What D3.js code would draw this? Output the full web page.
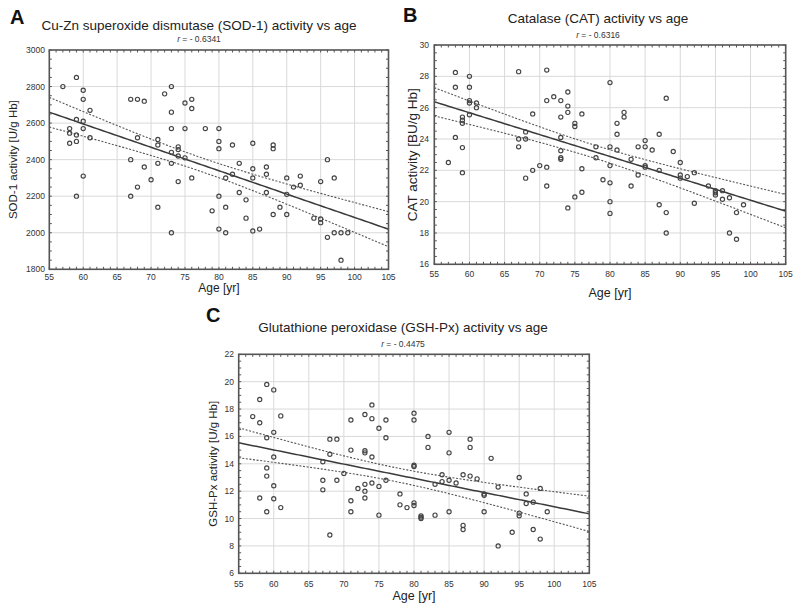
<!DOCTYPE html>
<html><head><meta charset="utf-8">
<script src="https://cdn.jsdelivr.net/npm/d3@7"></script>
<style>
body{margin:0;background:#fff;}
svg{display:block;font-family:"Liberation Sans",Arial,sans-serif;}
</style></head>
<body>
<svg id="chart" width="799" height="612"></svg>
<script>
// ---------------- DATA ----------------
const ageTicks = [55,60,65,70,75,80,85,90,95,100,105];

// Panel A: SOD-1
const sodTicks = [1800,2000,2200,2400,2600,2800,3000];
const sodAge = [57,58,58,58,59,59,59,59,59,60,60,60,60,60,61,61,
  67,67,67,68,68,68,69,69,70,71,71,71,71,72,73,73,73,73,73,73,74,74,74,74,75,75,75,76,76,76,78,79,
  80,80,80,80,80,81,81,81,82,82,83,83,84,84,85,85,85,85,86,87,87,87,88,88,88,89,90,90,90,91,92,92,94,
  95,95,95,96,96,97,97,98,98,99];
const sodVal = [2800,2570,2545,2490,2850,2620,2535,2500,2200,2780,2730,2610,2570,2310,2670,2520,
  2730,2400,2200,2730,2520,2250,2720,2360,2290,2510,2480,2380,2140,2760,2800,2660,2570,2440,2380,2000,2470,2455,2420,2280,2710,2570,2410,2730,2680,2300,2570,2120,
  2570,2500,2460,2200,2020,2300,2140,2000,2480,2320,2380,2220,2180,2080,2490,2350,2300,2010,2020,2360,2320,2220,2480,2460,2100,2140,2300,2210,2100,2250,2310,2260,2080,
  2280,2075,2055,2400,1975,2300,2000,2000,1850,2000];

// Panel B: CAT
const catTicks = [16,18,20,22,24,26,28,30];
const catAge = [57,58,58,58,59,59,59,59,59,60,60,60,60,60,61,61,
  67,67,67,68,68,68,69,69,70,71,71,71,71,72,73,73,73,73,73,73,74,74,74,74,75,75,75,76,76,76,78,78,79,
  80,80,80,80,80,80,81,81,81,82,82,83,83,84,84,85,85,85,85,86,87,87,87,88,88,88,89,90,90,90,91,92,92,94,
  95,95,95,96,96,97,97,98,98,99];
const catVal = [22.5,28.25,27.3,24.1,25.4,25.2,25.0,23.45,21.85,28.0,27.3,26.45,26.3,25.55,26.3,26.0,
  28.3,24.0,23.5,24.45,24.0,21.5,25.6,22.0,22.3,28.4,26.45,22.2,21.0,26.7,26.45,25.4,24.1,23.25,22.8,22.7,27.0,26.1,25.7,19.6,25.0,24.8,20.3,25.6,22.1,20.6,23.5,22.8,21.4,
  27.6,23.5,22.3,21.2,20.0,19.25,25.0,24.3,23.3,25.7,25.4,22.7,21.0,23.5,21.7,23.9,23.5,22.3,22.2,23.3,24.3,22.0,19.8,26.6,19.3,18.0,23.2,22.5,21.7,21.5,21.6,21.85,19.9,21.0,
  20.7,20.57,20.43,20.7,20.15,20.25,18.0,19.3,17.6,19.8];

// Panel C: GSH-Px
const gshTicks = [6,8,10,12,14,16,18,20,22];
const gshAge = [57,58,58,58,59,59,59,59,59,60,60,60,60,60,61,61,
  67,67,67,68,68,68,69,69,70,71,71,71,71,72,73,73,73,73,73,73,74,74,74,74,75,75,75,76,76,76,78,78,79,
  80,80,80,80,80,80,81,81,81,82,82,83,83,84,84,85,85,85,85,86,87,87,87,88,88,88,89,90,90,90,91,92,92,94,
  95,95,95,96,96,97,97,98,98,99];
const gshVal = [17.45,18.7,17.0,11.5,19.8,15.9,13.7,13.1,10.5,19.4,16.3,14.5,12.4,11.45,17.5,10.8,
  14.15,12.8,12.1,15.8,14.7,8.8,15.8,12.8,13.3,17.2,15.0,11.3,10.5,12.2,17.6,14.95,14.8,12.5,12.0,11.5,18.3,17.3,14.5,12.6,16.6,12.35,10.25,17.2,15.9,12.8,11.8,11.0,10.8,
  17.7,17.2,13.9,13.8,11.15,10.95,10.2,10.1,10.0,16.0,15.2,12.5,10.25,13.2,12.7,16.3,14.8,12.8,10.5,12.6,13.2,9.5,9.2,15.8,15.2,13.1,12.9,11.8,11.7,10.5,14.4,12.3,8.0,9.0,
  13.0,10.4,10.2,11.8,11.1,11.2,9.2,12.2,8.5,10.5];

const panelLetters = ["A","B","C"];
const panelTitles = ["Cu-Zn superoxide dismutase (SOD-1) activity vs age",
                     "Catalase (CAT) activity vs age",
                     "Glutathione peroxidase (GSH-Px) activity vs age"];
const rLabels = ["- 0.6341","- 0.6316","- 0.4475"];
const yLabels = ["SOD-1 activity [U/g Hb]","CAT activity [BU/g Hb]","GSH-Px activity [U/g Hb]"];
const xLabel = "Age [yr]";

// ---------------- LAYOUT ----------------
const layouts = [
  {l:49.3, r:388.5, t:50, b:269.3, letterX:10, letterY:24, titleX:199, titleY:30, rY:42, xTickY:279.5, xLabY:292, xLabSize:12, yLabX:17, yTickX:45, yLabSize:11.5},
  {l:434.3, r:785.7, t:45, b:264.3, letterX:403, letterY:22, titleX:598, titleY:23, rY:37.5, xTickY:277, xLabY:297, xLabSize:12.5, yLabX:417, yLabSize:13.5, yTickX:429},
  {l:238.7, r:589.3, t:354.3, b:573.3, letterX:206, letterY:322, titleX:403, titleY:332, rY:346.5, xTickY:586.5, xLabY:600, xLabSize:12.5, yLabX:217, yTickX:234, yLabSize:11.5}
];
const panels = [
  {ages:sodAge, vals:sodVal, ticks:sodTicks},
  {ages:catAge, vals:catVal, ticks:catTicks},
  {ages:gshAge, vals:gshVal, ticks:gshTicks}
];

const svg = d3.select("#chart");

function fit(xs, ys){
  const n = xs.length;
  const mx = d3.mean(xs), my = d3.mean(ys);
  let sxx=0, sxy=0;
  for(let i=0;i<n;i++){ sxx += (xs[i]-mx)**2; sxy += (xs[i]-mx)*(ys[i]-my); }
  const b = sxy/sxx, a = my - b*mx;
  let sse=0;
  for(let i=0;i<n;i++){ sse += (ys[i]-(a+b*xs[i]))**2; }
  const s = Math.sqrt(sse/(n-2));
  const t = 1.985;
  return {a,b,mx,sxx,s,n,t};
}

panels.forEach((p, i) => {
  const L = layouts[i];
  const yDom = d3.extent(p.ticks);
  const x = d3.scaleLinear().domain([55,105]).range([L.l, L.r]);
  const y = d3.scaleLinear().domain(yDom).range([L.b, L.t]);
  const g = svg.append("g");
  const yStep = p.ticks[1]-p.ticks[0];

  // grid
  g.append("g").selectAll("line").data(ageTicks.slice(1,-1)).join("line")
    .attr("x1", d=>x(d)).attr("x2", d=>x(d)).attr("y1", L.t).attr("y2", L.b)
    .attr("stroke", "#d9d9d9").attr("stroke-width", 1);
  g.append("g").selectAll("line").data(p.ticks.slice(1,-1)).join("line")
    .attr("y1", d=>y(d)).attr("y2", d=>y(d)).attr("x1", L.l).attr("x2", L.r)
    .attr("stroke", "#d9d9d9").attr("stroke-width", 1);

  // regression + confidence band
  const f = fit(p.ages, p.vals);
  const xs = d3.range(55, 105.01, 0.5);
  const line = d3.line().x(d=>x(d[0])).y(d=>y(d[1]));
  const hw = xx => f.t*f.s*Math.sqrt(1/f.n + (xx-f.mx)**2/f.sxx);
  g.append("path").attr("d", line(xs.map(v=>[v, f.a+f.b*v])))
    .attr("fill","none").attr("stroke","#3a3a3a").attr("stroke-width",1.5);
  [1,-1].forEach(sg => {
    g.append("path").attr("d", line(xs.map(v=>[v, f.a+f.b*v + sg*hw(v)])))
      .attr("fill","none").attr("stroke","#555").attr("stroke-width",1.1).attr("stroke-dasharray","2,1.6");
  });

  // points
  g.append("g").selectAll("circle").data(p.ages.map((a,k)=>[a,p.vals[k]])).join("circle")
    .attr("cx", d=>x(d[0])).attr("cy", d=>y(d[1])).attr("r", 2.1)
    .attr("fill","none").attr("stroke","#444").attr("stroke-width",1.15);

  // minor ticks (inside frame)
  const minorX = d3.range(55, 105.01, 1);
  const minorY = d3.range(yDom[0], yDom[1]+1e-9, yStep/4);
  const tk = g.append("g").attr("stroke","#555").attr("stroke-width",1);
  tk.selectAll(".mt").data(minorX).join("line").attr("x1",d=>x(d)).attr("x2",d=>x(d)).attr("y1",L.t).attr("y2",L.t+2.5);
  tk.selectAll(".mb").data(minorX).join("line").attr("x1",d=>x(d)).attr("x2",d=>x(d)).attr("y1",L.b).attr("y2",L.b-2.5);
  tk.selectAll(".ml").data(minorY).join("line").attr("y1",d=>y(d)).attr("y2",d=>y(d)).attr("x1",L.l).attr("x2",L.l+2.5);
  tk.selectAll(".mr").data(minorY).join("line").attr("y1",d=>y(d)).attr("y2",d=>y(d)).attr("x1",L.r).attr("x2",L.r-2.5);

  // frame
  g.append("rect").attr("x", L.l).attr("y", L.t).attr("width", L.r-L.l).attr("height", L.b-L.t)
    .attr("fill","none").attr("stroke","#555").attr("stroke-width",1.6);

  // tick labels
  g.append("g").selectAll("text").data(ageTicks).join("text")
    .attr("x", d=>x(d)).attr("y", L.xTickY).attr("text-anchor","middle")
    .attr("font-size", 8.5).attr("fill","#333").text(d=>d);
  g.append("g").selectAll("text").data(p.ticks).join("text")
    .attr("x", L.yTickX).attr("y", d=>y(d)+3).attr("text-anchor","end")
    .attr("font-size", 8.5).attr("fill","#333").text(d=>d);

  // labels
  g.append("text").attr("x", L.letterX).attr("y", L.letterY).attr("font-size", 20).attr("font-weight","bold")
    .attr("fill","#111").text(panelLetters[i]);
  g.append("text").attr("x", L.titleX).attr("y", L.titleY).attr("text-anchor","middle")
    .attr("font-size", 13.5).attr("fill","#222").text(panelTitles[i]);
  const rt = g.append("text").attr("x", L.titleX).attr("y", L.rY).attr("text-anchor","middle")
    .attr("font-size", 8.5).attr("fill","#333");
  rt.append("tspan").attr("font-style","italic").text("r");
  rt.append("tspan").text(" = " + rLabels[i]);
  g.append("text").attr("x", (L.l+L.r)/2).attr("y", L.xLabY).attr("text-anchor","middle")
    .attr("font-size", L.xLabSize).attr("fill","#222").text(xLabel);
  g.append("text").attr("transform", `translate(${L.yLabX},${(L.t+L.b)/2}) rotate(-90)`)
    .attr("text-anchor","middle").attr("font-size", L.yLabSize).attr("fill","#222").text(yLabels[i]);
});
</script>
</body></html>
